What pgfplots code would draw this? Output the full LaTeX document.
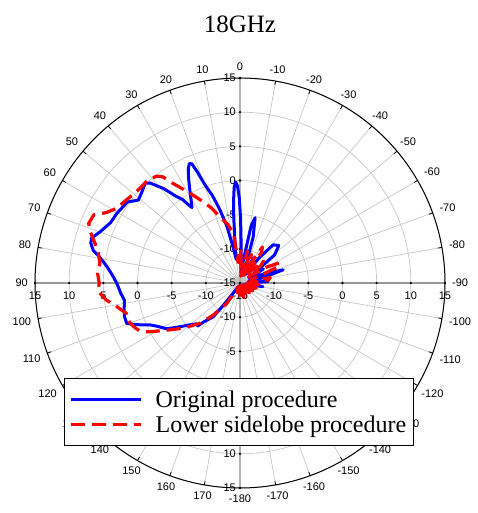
\documentclass[border=0pt]{standalone}
\usepackage{fontspec}
\setmainfont{Liberation Serif}
\newfontfamily\lsans{Liberation Sans}
\usepackage{pgfplots}
\pgfplotsset{compat=1.18}
\usepgfplotslibrary{polar}
\usepackage{pgfplotstable}
\newcommand\lf{\lsans\fontsize{11}{12}\selectfont}

\pgfplotstableread{
a d
-180 -14.5
-172 -13.2
-165 -14.6
-158 -13.6
-150 -14.6
-142 -13.4
-135 -14.6
-128 -13.2
-120 -14.5
-113 -12.8
-106 -14.2
-99 -11.6
-93 -14.0
-87 -10.9
-81 -13.8
-77 -11.5
-73 -8.4
-69 -11.5
-64 -13.5
-59 -11.0
-55 -12.5
-51 -8.5
-46 -7.1
-41 -7.6
-37 -10.5
-33 -13.5
-28 -10.8
-24 -13.8
-19 -12.5
-16 -8.0
-13 -5.2
-11 -6.5
-8.5 -11.5
-5.5 -13.5
-3 -12
-1.5 -9
-0.5 -5.5
0.5 -2.5
1.5 -0.8
2.5 -0.2
3.5 -1.0
4.5 -3.0
5.5 -5.5
7 -9
9 -11.5
11 -9.6
13 -6.5
15.3 -3.9
17.5 -1.6
19.6 0.2
21 2.4
22 3.8
23 4.0
24.6 3.2
26.5 1.8
28.3 0.5
30 -0.6
31.8 -1.6
32.5 -1.9
33.5 -1.2
34.5 -0.2
36.3 0.7
39 2.8
42 4.7
43.6 5.15
47 4.6
50.8 4.2
54.3 5.3
60.5 5.7
65 5.9
69.9 6.8
73.2 7.7
75 7.6
77.5 7.0
79.5 5.9
83 4.6
87 3.6
90 3.05
95 2.5
98.5 2.1
103 2.4
106 2.6
109.6 2.6
112 1.3
115 -0.5
117.5 -1.3
122 -2.35
126 -4.1
130 -5.5
133.4 -6.3
135.5 -6.2
137 -7.2
141.6 -8.7
143.5 -11
146 -13.2
152 -14.3
160 -13.6
168 -14.6
175 -13.8
180 -14.5
}\origdata

\pgfplotstableread{
a d
-180 -13.0
-172 -14.5
-165 -12.8
-158 -14.6
-150 -13.2
-143 -14.6
-136 -13.0
-129 -14.6
-122 -12.8
-115 -14.4
-108 -12.5
-101 -14.2
-95 -12.2
-90 -14.0
-84 -10.8
-80 -10.5
-76 -13.5
-71 -12.5
-67 -9.0
-63 -8.5
-59 -10.5
-55 -13.5
-50 -11
-47 -10.3
-43 -12.5
-39 -13.8
-35 -9.5
-32 -8.8
-29 -11.5
-26 -13.8
-22 -10.5
-19 -11.5
-16 -13.8
-13 -10.2
-10 -12.5
-6 -14
-2 -10
1 -11.5
3 -10.3
5 -12
7.4 -7.6
12 -6.2
16.8 -4.9
21 -3.2
24.5 -1.9
29 0
31.5 1.2
34 2.6
36 4.2
38 4.85
42.6 5.2
48.5 5.2
53.8 5.6
58.8 6.1
62.2 7.1
65 8.6
68.5 8.8
71 8.2
74.7 7.0
78 6.2
82 5.7
86 5.9
90 5.6
93.4 5.8
97.3 4.7
100.7 3.4
105 2.2
108 2.3
111 2.0
113 1.7
116 1.2
118.4 0
122.7 -2.2
128.6 -4.4
135.2 -6.7
140.2 -8.9
146.8 -11.4
152 -13.4
158 -14.5
165 -13.5
172 -14.6
180 -13.0
}\lowdata

\begin{document}
\begin{tikzpicture}
\begin{polaraxis}[
  scale only axis, width=410pt, height=410pt,
  xmin=0, xmax=360, ymin=0, ymax=30,
  clip=false,
  xtick={0,10,...,350},
  xticklabels={-90,-80,-70,-60,-50,-40,-30,-20,-10,0,10,20,30,40,50,60,70,80,90,100,110,120,130,140,150,160,170,-180,-170,-160,-150,-140,-130,-120,-110,-100},
  ytick={0,5,...,30},
  yticklabels={},
  ytick style={draw=none},
  grid=major,
  major grid style={draw=black!22, line width=0.7pt},
  axis line style={black, line width=1pt},
  tick align=outside,
  major tick length=4pt,
  xtick style={black, line width=0.8pt},
  xticklabel style={font=\lf, inner sep=2pt,
    /utils/exec={\pgfmathtruncatemacro\myanch{\tick+180}},
    anchor=\myanch, shift={(\tick:9pt)}},
  title={18GHz},
  title style={font=\fontsize{25}{28}\selectfont, at={(0.5,1)}, anchor=base, yshift=31pt},
  legend style={at={(0.0707,0.268)}, anchor=north west, font=\fontsize{24}{27}\selectfont, draw=black, line width=0.8pt, fill=white, inner xsep=5pt, inner ysep=10pt, row sep=3pt, column sep=11pt, cells={anchor=west}},
  legend image code/.code={\draw[#1] (0pt,0pt) -- (70pt,0pt);},
]
\coordinate (c) at (axis cs:0,0);
\draw[black!40, line width=1.3pt] (axis cs:0,30) -- (axis cs:180,30);
\draw[black!30, line width=1.8pt] (axis cs:90,30) -- (axis cs:270,30);
\pgfplotsinvokeforeach{0,5,10,15,20,25,30}{
  \fill (axis cs:90,#1) circle[radius=1.3pt];
  \node[anchor=east, font=\lf, inner sep=0pt, xshift=-4pt] at (axis cs:90,#1) {\pgfmathtruncatemacro\lab{#1-15}\lab};
}
\pgfplotsinvokeforeach{5,10,25,30}{
  \fill (axis cs:270,#1) circle[radius=1.3pt];
  \node[anchor=east, font=\lf, inner sep=0pt, xshift=-4pt] at (axis cs:270,#1) {\pgfmathtruncatemacro\lab{#1-15}\lab};
}
\pgfplotsinvokeforeach{5,10,15,20,25,30}{
  \fill (axis cs:180,#1) circle[radius=1.3pt];
  \node[anchor=north, font=\lf, inner sep=0pt, yshift=-9pt] at (axis cs:180,#1) {\pgfmathtruncatemacro\lab{#1-15}\lab};
  \fill (axis cs:0,#1) circle[radius=1.3pt];
  \node[anchor=north, font=\lf, inner sep=0pt, yshift=-9pt] at (axis cs:0,#1) {\pgfmathtruncatemacro\lab{#1-15}\lab};
}
\node[anchor=north, font=\lf, inner sep=0pt, yshift=-9pt] at (axis cs:0,0) {-15};

\addplot[blue, line width=3pt, line join=round, no markers] table[x expr=\thisrow{a}+90, y expr=\thisrow{d}+15] {\origdata};
\addlegendentry{Original procedure}
\addplot[red, line width=3.2pt, dash pattern=on 14pt off 7pt, line join=round, no markers] table[x expr=\thisrow{a}+90, y expr=\thisrow{d}+15] {\lowdata};
\addlegendentry{Lower sidelobe procedure}
\end{polaraxis}
\path (c) ++(-240pt,283pt) rectangle ++(477pt,-513pt);
\end{tikzpicture}
\end{document}
